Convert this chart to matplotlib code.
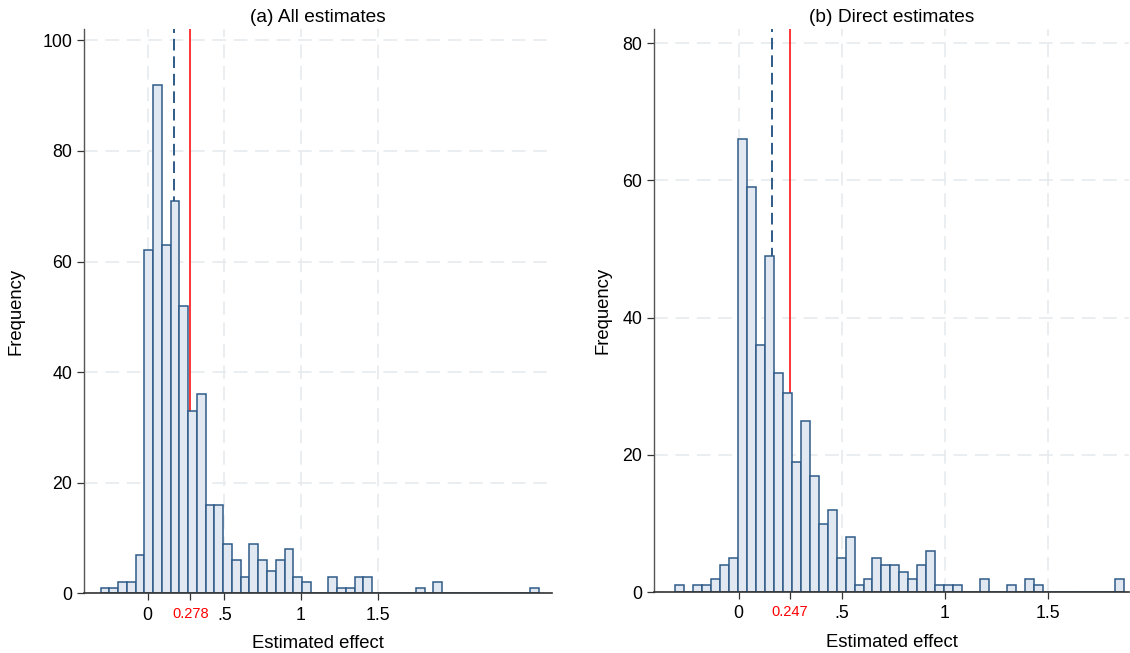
import numpy as np
import matplotlib
matplotlib.use("Agg")
import matplotlib.pyplot as plt

plt.rcParams['font.family'] = ['Liberation Sans', 'DejaVu Sans']

# ---- data: histogram bin counts (50 equal-width bins between data min and max) ----
counts_all = [1, 1, 2, 2, 7, 62, 92, 63, 71, 52,
              33, 36, 16, 16, 9, 6, 3, 9, 6, 4,
              6, 8, 3, 2, 0, 0, 3, 1, 1, 3,
              3, 0, 0, 0, 0, 0, 1, 0, 2, 0,
              0, 0, 0, 0, 0, 0, 0, 0, 0, 1]
range_all = (-0.307, 2.55)
median_all = 0.169
mean_all = 0.278

counts_direct = [1, 0, 1, 1, 2, 4, 5, 66, 59, 36,
                 49, 32, 29, 19, 25, 17, 10, 12, 5, 8,
                 1, 2, 5, 4, 4, 3, 2, 4, 6, 1,
                 1, 1, 0, 0, 2, 0, 0, 1, 0, 2,
                 1, 0, 0, 0, 0, 0, 0, 0, 0, 2]
range_direct = (-0.307, 1.865)
median_direct = 0.164
mean_direct = 0.247

titles = ["(a) All estimates", "(b) Direct estimates"]
x_ticks = [0, 0.5, 1, 1.5]
x_ticklabels = ["0", ".5", "1", "1.5"]
y_ticks_all = [0, 20, 40, 60, 80, 100]
y_ticks_direct = [0, 20, 40, 60, 80]
xlabel = "Estimated effect"
ylabel = "Frequency"

NAVY = '#2f5b88'
FILL = '#e2e8f1'
GRID = '#e4eaec'

fig = plt.figure(figsize=(11.3, 6.53), dpi=100)
ax_a = fig.add_axes([0.0743, 0.0914, 0.4139, 0.8637])
ax_b = fig.add_axes([0.5788, 0.0930, 0.4202, 0.8621])


def draw(ax, counts, rng, med, mean, title, yticks, xlim, ylim, ylabelpad):
    edges = np.linspace(rng[0], rng[1], len(counts) + 1)
    widths = np.diff(edges)
    ax.set_axisbelow(True)
    ax.axvline(med, color=NAVY, lw=1.4, dashes=(6, 3), zorder=1)
    ax.axvline(mean, color='#ff0000', lw=1.1, zorder=1)
    ax.bar(edges[:-1], counts, width=widths, align='edge',
           facecolor=FILL, edgecolor=NAVY, linewidth=1.1, zorder=2)

    ticks = [x_ticks[0], mean] + x_ticks[1:]
    labels = [x_ticklabels[0], f"{mean:.3f}"] + x_ticklabels[1:]
    ax.set_xticks(ticks)
    ax.set_xticklabels(labels)
    ax.set_yticks(yticks)
    ax.set_xlim(*xlim)
    ax.set_ylim(*ylim)

    ax.grid(True, color=GRID, lw=1.1, dashes=(9, 5))
    ax.tick_params(axis='both', direction='out', length=5, width=0.9,
                   color='#333333', labelsize=12.8, pad=3.5)
    ax.tick_params(axis='x', pad=4.5)
    t = ax.xaxis.get_major_ticks()[1]
    t.gridline.set_visible(False)
    t.tick1line.set_color('#ff0000')
    t.label1.set_color('#ff0000')
    t.label1.set_fontsize(10.5)

    for s in ['top', 'right']:
        ax.spines[s].set_visible(False)
    ax.spines['left'].set_color('#555555')
    ax.spines['bottom'].set_color('#333333')
    ax.spines['left'].set_linewidth(1.0)
    ax.spines['bottom'].set_linewidth(1.2)
    ax.set_title(title, fontsize=13.8, pad=5)
    ax.set_xlabel(xlabel, fontsize=13.3, labelpad=8)
    ax.set_ylabel(ylabel, fontsize=13.3, labelpad=ylabelpad)


draw(ax_a, counts_all, range_all, median_all, mean_all, titles[0],
     y_ticks_all, (-0.415, 2.635), (0, 102), 13)
draw(ax_b, counts_direct, range_direct, median_direct, mean_direct, titles[1],
     y_ticks_direct, (-0.409, 1.89), (0, 82), 8)

fig.savefig("out.png", dpi=100)
